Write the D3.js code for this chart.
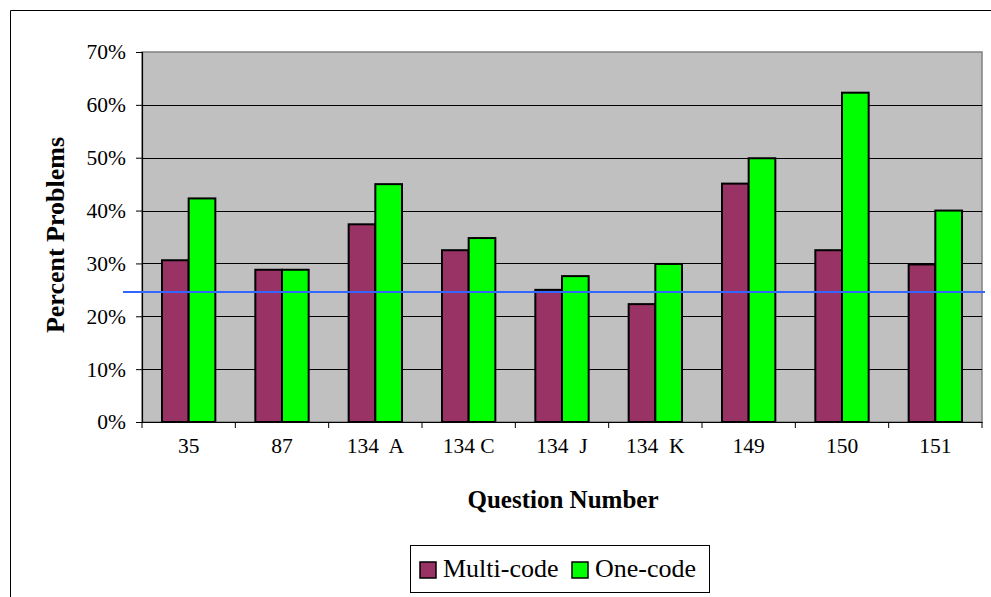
<!DOCTYPE html>
<html>
<head>
<meta charset="utf-8">
<script src="https://cdn.jsdelivr.net/npm/d3@7"></script>
<style>
  body { margin: 0; background: #fff; }
  text { font-family: "Liberation Serif", "Times New Roman", serif; }
</style>
</head>
<body>
<div class="chart-container"></div>
<script>
// Data
const categories = ['35', '87', '134  A', '134 C', '134  J', '134  K', '149', '150', '151'];
const seriesNames = ['Multi-code', 'One-code'];
const multiCode = [30.6, 28.8, 37.4, 32.5, 25.0, 22.3, 45.1, 32.5, 29.8];
const oneCode = [42.3, 28.8, 45.0, 34.8, 27.6, 29.9, 49.9, 62.3, 40.0];
const referenceLine = 24.6;
const yTicks = [0, 10, 20, 30, 40, 50, 60, 70];

// Dimensions
const W = 991, H = 597;
const plot = { left: 142, right: 982, top: 52, bottom: 422 };
const colors = ['#993366', '#00ff00'];

const svg = d3.select('.chart-container')
  .append('svg')
    .attr('width', W)
    .attr('height', H);

// Outer frame (right/bottom run off the picture)
svg.append('path')
  .attr('d', `M10.5,${H + 5} V10.5 H${W + 5}`)
  .attr('fill', 'none')
  .attr('stroke', '#000')
  .attr('stroke-width', 1);

// Scales
const x = d3.scaleBand()
  .domain(categories)
  .range([plot.left, plot.right])
  .paddingInner(0)
  .paddingOuter(0);

const barW = x.bandwidth() / 3.5; // gap width 150%
const xInner = d3.scaleBand()
  .domain(seriesNames)
  .range([0.75 * barW, 2.75 * barW]);

const y = d3.scaleLinear()
  .domain([0, 70])
  .range([plot.bottom, plot.top]);

// Plot background
svg.append('rect')
  .attr('x', plot.left)
  .attr('y', plot.top)
  .attr('width', plot.right - plot.left)
  .attr('height', plot.bottom - plot.top)
  .attr('fill', '#c0c0c0')
  .attr('stroke', '#808080')
  .attr('stroke-width', 1.5);

// Gridlines
svg.append('g').attr('class', 'grid')
  .selectAll('line')
  .data(yTicks.filter(d => d > 0 && d < 70))
  .join('line')
    .attr('x1', plot.left)
    .attr('x2', plot.right)
    .attr('y1', d => Math.round(y(d)) + 0.5)
    .attr('y2', d => Math.round(y(d)) + 0.5)
    .attr('stroke', '#000')
    .attr('stroke-width', 1);

// Bars
const rows = categories.map((c, i) => ({ cat: c, vals: [multiCode[i], oneCode[i]] }));

svg.append('g').attr('class', 'bars')
  .selectAll('g')
  .data(rows)
  .join('g')
    .attr('transform', d => `translate(${x(d.cat)},0)`)
  .selectAll('rect')
  .data(d => d.vals.map((v, j) => ({ name: seriesNames[j], v: v, j: j })))
  .join('rect')
    .attr('x', d => xInner(d.name))
    .attr('y', d => y(d.v))
    .attr('width', xInner.bandwidth())
    .attr('height', d => y(0) - y(d.v))
    .attr('fill', d => colors[d.j])
    .attr('stroke', '#000')
    .attr('stroke-width', 2);

// Y axis
const yAxis = svg.append('g')
  .attr('transform', `translate(${plot.left},0)`)
  .call(d3.axisLeft(y)
    .tickValues(yTicks)
    .tickSize(6)
    .tickPadding(10)
    .tickFormat(d => d + '%'));
yAxis.select('.domain').attr('stroke', '#000').attr('stroke-width', 1.2);
yAxis.selectAll('.tick line').attr('stroke', '#000');
yAxis.selectAll('.tick text')
  .attr('font-family', '"Liberation Serif", serif')
  .attr('font-size', 21.5)
  .attr('fill', '#000');

// X axis
const xAxis = svg.append('g')
  .attr('transform', `translate(0,${plot.bottom})`)
  .call(d3.axisBottom(x).tickSize(0).tickPadding(16));
xAxis.select('.domain').attr('stroke', '#000').attr('stroke-width', 1.2);
xAxis.selectAll('.tick text')
  .attr('font-family', '"Liberation Serif", serif')
  .attr('font-size', 21.5)
  .attr('fill', '#000')
  .attr('xml:space', 'preserve');

// Category boundary ticks
xAxis.append('g')
  .selectAll('line')
  .data(categories.concat(['end']))
  .join('line')
    .attr('x1', (d, i) => i < categories.length ? x(d) : plot.right)
    .attr('x2', (d, i) => i < categories.length ? x(d) : plot.right)
    .attr('y1', 0)
    .attr('y2', 6)
    .attr('stroke', '#000')
    .attr('stroke-width', 1);

// Reference line
svg.append('line')
  .attr('x1', 123)
  .attr('x2', 985)
  .attr('y1', y(referenceLine))
  .attr('y2', y(referenceLine))
  .attr('stroke', '#3366ff')
  .attr('stroke-width', 2);

// Axis titles
svg.append('text')
  .attr('transform', `translate(64,${(plot.top + plot.bottom) / 2 - 2}) rotate(-90)`)
  .attr('text-anchor', 'middle')
  .attr('font-weight', 'bold')
  .attr('font-size', 26)
  .text('Percent Problems');

svg.append('text')
  .attr('x', (plot.left + plot.right) / 2 + 1)
  .attr('y', 508)
  .attr('text-anchor', 'middle')
  .attr('font-weight', 'bold')
  .attr('font-size', 25)
  .text('Question Number');

// Legend
const legend = svg.append('g').attr('class', 'legend');
legend.append('rect')
  .attr('x', 410.5)
  .attr('y', 545.5)
  .attr('width', 299)
  .attr('height', 47)
  .attr('fill', '#fff')
  .attr('stroke', '#000')
  .attr('stroke-width', 1);

const legendX = [420, 572];
const item = legend.selectAll('g.item')
  .data(seriesNames)
  .join('g')
    .attr('class', 'item')
    .attr('transform', (d, i) => `translate(${legendX[i]},562)`);
item.append('rect')
  .attr('width', 16)
  .attr('height', 16)
  .attr('fill', (d, i) => colors[i])
  .attr('stroke', '#000')
  .attr('stroke-width', 1.5);
item.append('text')
  .attr('x', 23)
  .attr('y', 15)
  .attr('font-size', 26)
  .text(d => d);
</script>
</body>
</html>
